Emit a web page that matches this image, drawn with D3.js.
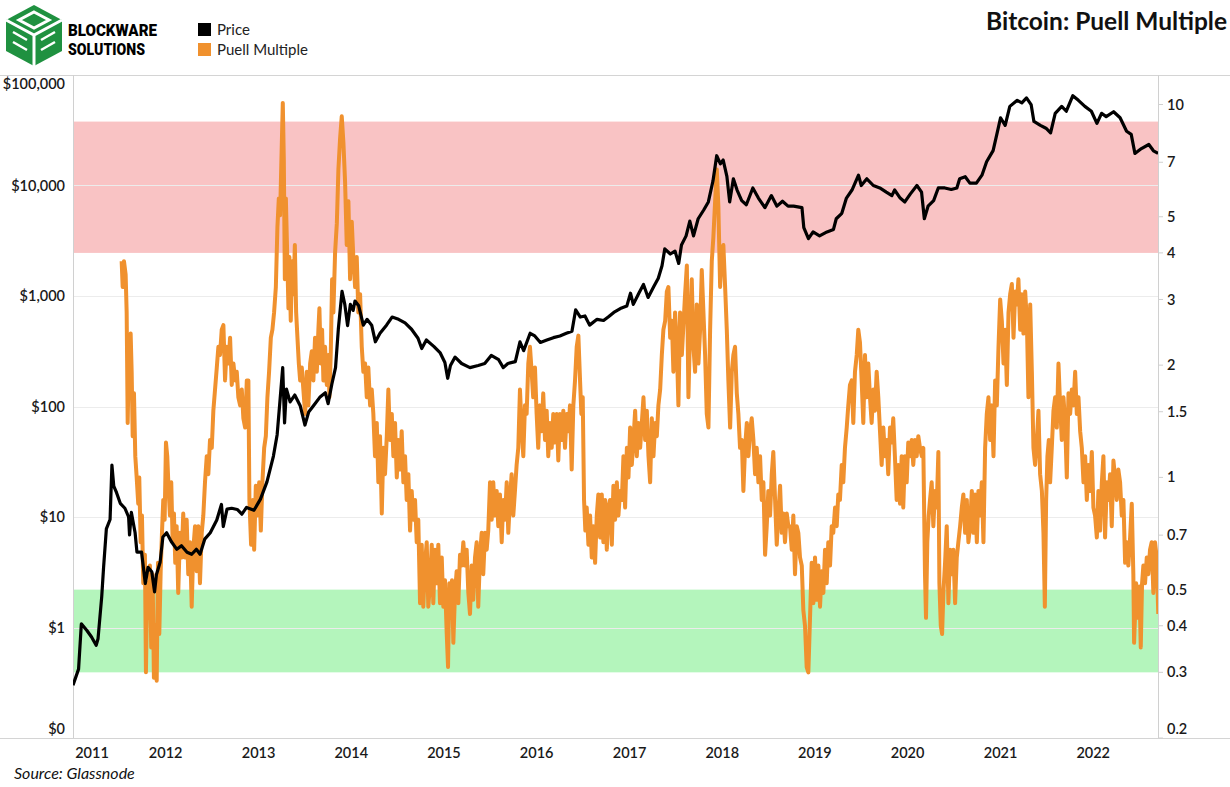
<!DOCTYPE html>
<html>
<head>
<meta charset="utf-8">
<script src="https://cdn.jsdelivr.net/npm/d3@7"></script>
<style>
  body { margin: 0; background: #fff; }
  svg { display: block; font-family: Lato, "Open Sans", sans-serif; }
</style>
</head>
<body>
<script>
// chart data (decimal year, value)
var yearTicks = [2011, 2012, 2013, 2014, 2015, 2016, 2017, 2018, 2019, 2020, 2021, 2022];
var priceTicks = [0.1, 1, 10, 100, 1000, 10000, 100000];
var puellTicks = [0.2, 0.3, 0.4, 0.5, 0.7, 1, 1.5, 2, 3, 4, 5, 7, 10];
var redZone = [4, 9];
var greenZone = [0.3, 0.5];

var price = [
  [2011.00,0.30],[2011.06,0.42],[2011.09,1.08],[2011.15,0.94],[2011.20,0.82],[2011.25,0.69],[2011.27,0.79],
  [2011.31,1.9],[2011.33,3.5],[2011.36,7.8],[2011.40,9.5],[2011.42,29.5],[2011.44,19],[2011.47,16.6],
  [2011.51,13.3],[2011.56,12],[2011.60,10],[2011.61,6.9],[2011.63,11],[2011.67,7.2],[2011.69,4.8],
  [2011.74,4.8],[2011.78,2.5],[2011.81,3.5],[2011.85,3.2],[2011.88,2.1],[2011.90,3.0],[2011.94,3.9],
  [2011.97,6.6],[2012.01,7.2],[2012.06,6.0],[2012.12,5.1],[2012.17,5.5],[2012.23,4.8],[2012.28,4.6],
  [2012.33,5.1],[2012.37,4.6],[2012.42,6.3],[2012.48,7.2],[2012.55,9.4],[2012.60,13],[2012.62,8.2],
  [2012.66,11.8],[2012.71,12],[2012.77,11.7],[2012.82,10.6],[2012.87,12.2],[2012.95,11.5],[2013.02,14.5],
  [2013.09,20.8],[2013.16,35.6],[2013.20,55.6],[2013.23,111],[2013.26,225],[2013.28,71],[2013.30,144],
  [2013.34,110],[2013.39,127],[2013.45,101],[2013.50,68],[2013.54,89],[2013.59,101],[2013.66,121],
  [2013.72,133],[2013.75,106],[2013.79,159],[2013.83,225],[2013.86,500],[2013.90,1100],[2013.93,840],
  [2013.96,540],[2013.99,840],[2014.02,740],[2014.04,900],[2014.08,815],[2014.13,545],[2014.17,615],
  [2014.22,545],[2014.26,385],[2014.31,460],[2014.38,545],[2014.44,645],[2014.51,615],[2014.58,570],
  [2014.65,500],[2014.72,415],[2014.76,335],[2014.81,400],[2014.89,350],[2014.96,305],[2015.01,250],
  [2015.04,180],[2015.07,235],[2015.12,280],[2015.19,245],[2015.28,225],[2015.37,235],[2015.44,245],
  [2015.51,290],[2015.59,265],[2015.64,225],[2015.69,245],[2015.77,255],[2015.82,385],[2015.86,320],
  [2015.93,460],[2015.98,435],[2016.04,380],[2016.11,400],[2016.18,420],[2016.25,435],[2016.32,460],
  [2016.38,480],[2016.42,750],[2016.47,645],[2016.52,660],[2016.57,545],[2016.65,615],[2016.72,600],
  [2016.77,645],[2016.83,710],[2016.90,770],[2016.97,810],[2017.01,1060],[2017.04,840],[2017.10,1060],
  [2017.15,1270],[2017.20,970],[2017.26,1210],[2017.31,1450],[2017.35,1880],[2017.38,2670],[2017.44,2400],
  [2017.49,2550],[2017.53,1970],[2017.56,2900],[2017.61,3500],[2017.65,4770],[2017.69,3500],[2017.74,5000],
  [2017.80,6000],[2017.85,7100],[2017.90,11000],[2017.94,18600],[2017.98,15700],[2018.01,17000],
  [2018.05,12100],[2018.08,7100],[2018.12,11500],[2018.16,9100],[2018.21,7300],[2018.26,6700],[2018.33,9500],
  [2018.39,7700],[2018.46,6300],[2018.53,8100],[2018.59,6500],[2018.65,7200],[2018.71,6500],[2018.77,6500],
  [2018.86,6300],[2018.88,4160],[2018.93,3300],[2018.98,3800],[2019.05,3500],[2019.13,3800],[2019.20,4000],
  [2019.23,5000],[2019.29,5600],[2019.34,7700],[2019.40,9100],[2019.47,12400],[2019.50,10000],[2019.56,11500],
  [2019.63,10000],[2019.70,9500],[2019.77,8700],[2019.83,8100],[2019.86,9100],[2019.92,7700],[2019.97,7100],
  [2020.03,8400],[2020.10,10000],[2020.15,8700],[2020.18,5000],[2020.22,6500],[2020.28,7300],[2020.33,9500],
  [2020.40,9500],[2020.47,9200],[2020.53,9500],[2020.56,11500],[2020.62,12000],[2020.67,10500],[2020.74,10500],
  [2020.80,12400],[2020.85,16400],[2020.92,20700],[2020.96,29000],[2021.00,41000],[2021.05,35000],
  [2021.10,52000],[2021.18,59000],[2021.23,56000],[2021.28,62000],[2021.33,54000],[2021.36,38000],
  [2021.43,35000],[2021.49,33000],[2021.54,30000],[2021.59,45000],[2021.66,52000],[2021.71,47000],
  [2021.78,65000],[2021.84,59000],[2021.91,52000],[2021.98,47000],[2022.04,36500],[2022.09,45000],
  [2022.14,42000],[2022.22,46500],[2022.29,41000],[2022.36,31000],[2022.41,29000],[2022.45,19500],
  [2022.52,21600],[2022.60,23500],[2022.65,20600],[2022.70,19500]
];

var puell = [
  [2011.525,3.8],[2011.536,3.24],[2011.550,3.8],[2011.568,3.5],[2011.579,2.77],[2011.590,1.4],[2011.604,2.18],
  [2011.622,2.43],[2011.633,1.92],[2011.644,1.29],[2011.658,1.68],[2011.672,1.14],[2011.687,1.0],[2011.704,0.85],
  [2011.715,1.0],[2011.730,0.67],[2011.744,0.79],[2011.758,0.52],[2011.776,0.62],[2011.787,0.30],[2011.801,0.52],
  [2011.812,0.42],[2011.830,0.58],[2011.844,0.35],[2011.859,0.55],[2011.873,0.29],[2011.887,0.40],[2011.903,0.285],
  [2011.917,0.59],[2011.931,0.38],[2011.946,0.56],[2011.960,0.71],[2011.974,0.87],[2011.989,0.77],[2012.003,1.24],
  [2012.017,1.14],[2012.032,0.92],[2012.046,0.79],[2012.060,0.97],[2012.075,0.67],[2012.089,0.8],[2012.103,0.59],
  [2012.118,0.74],[2012.135,0.49],[2012.154,0.71],[2012.172,0.61],[2012.189,0.8],[2012.208,0.61],[2012.226,0.77],
  [2012.243,0.55],[2012.262,0.67],[2012.280,0.45],[2012.297,0.64],[2012.316,0.74],[2012.334,0.56],[2012.351,0.74],
  [2012.369,0.52],[2012.388,0.71],[2012.405,0.79],[2012.423,0.97],[2012.442,1.14],[2012.459,1.02],[2012.477,1.26],
  [2012.496,1.2],[2012.513,1.51],[2012.531,1.72],[2012.550,1.97],[2012.567,2.24],[2012.585,2.13],[2012.603,2.49],
  [2012.621,2.56],[2012.639,1.82],[2012.657,2.24],[2012.675,2.02],[2012.693,2.37],[2012.711,1.77],[2012.729,2.02],
  [2012.747,1.82],[2012.765,1.92],[2012.782,1.64],[2012.801,1.56],[2012.819,1.72],[2012.836,1.44],[2012.855,1.36],
  [2012.873,1.82],[2012.890,1.82],[2012.901,0.87],[2012.919,0.66],[2012.938,0.87],[2012.952,0.64],[2012.970,0.95],
  [2012.987,0.79],[2013.006,0.97],[2013.024,0.72],[2013.041,0.97],[2013.060,1.2],[2013.078,1.29],[2013.095,1.64],
  [2013.113,1.92],[2013.132,2.37],[2013.149,2.49],[2013.167,2.77],[2013.186,3.24],[2013.203,4.7],[2013.218,5.6],
  [2013.232,5.05],[2013.246,7.1],[2013.261,10.1],[2013.272,7.1],[2013.283,3.4],[2013.294,5.6],[2013.308,4.0],
  [2013.322,2.84],[2013.332,3.9],[2013.347,2.63],[2013.362,3.8],[2013.376,3.1],[2013.391,4.2],[2013.405,2.77],
  [2013.419,2.37],[2013.434,2.02],[2013.448,1.82],[2013.466,1.97],[2013.483,1.72],[2013.502,1.48],[2013.520,1.92],
  [2013.537,1.56],[2013.556,2.02],[2013.574,2.18],[2013.591,1.82],[2013.609,2.37],[2013.628,1.92],[2013.645,2.49],
  [2013.656,2.84],[2013.671,2.02],[2013.685,2.49],[2013.699,1.82],[2013.717,2.24],[2013.736,1.77],[2013.753,2.13],
  [2013.764,1.64],[2013.779,2.18],[2013.793,3.4],[2013.807,2.77],[2013.825,4.0],[2013.844,4.8],[2013.861,6.7],
  [2013.879,8.1],[2013.897,9.3],[2013.915,7.9],[2013.933,6.2],[2013.951,4.2],[2013.969,5.5],[2013.987,3.4],
  [2014.005,4.85],[2014.022,3.9],[2014.041,3.24],[2014.059,3.9],[2014.076,2.77],[2014.095,3.1],[2014.113,2.24],
  [2014.130,1.92],[2014.149,2.02],[2014.167,1.64],[2014.184,1.97],[2014.203,1.56],[2014.221,1.72],[2014.238,1.48],
  [2014.256,1.14],[2014.275,1.4],[2014.292,0.97],[2014.310,1.29],[2014.329,0.8],[2014.346,1.2],[2014.364,1.02],
  [2014.383,1.29],[2014.400,1.72],[2014.418,1.26],[2014.437,1.48],[2014.454,1.14],[2014.472,1.4],[2014.491,1.0],
  [2014.508,1.26],[2014.526,1.05],[2014.544,1.33],[2014.562,0.97],[2014.580,1.14],[2014.598,0.87],[2014.616,1.02],
  [2014.634,0.72],[2014.652,0.92],[2014.669,0.77],[2014.688,0.87],[2014.706,0.67],[2014.723,0.77],[2014.742,0.46],
  [2014.760,0.66],[2014.777,0.45],[2014.796,0.59],[2014.814,0.67],[2014.831,0.45],[2014.850,0.52],[2014.868,0.66],
  [2014.885,0.46],[2014.903,0.64],[2014.922,0.52],[2014.939,0.66],[2014.957,0.46],[2014.976,0.61],[2014.993,0.45],
  [2015.011,0.53],[2015.030,0.38],[2015.044,0.31],[2015.058,0.52],[2015.073,0.42],[2015.087,0.53],[2015.101,0.36],
  [2015.119,0.49],[2015.137,0.56],[2015.155,0.46],[2015.173,0.62],[2015.191,0.58],[2015.209,0.67],[2015.227,0.58],
  [2015.245,0.64],[2015.263,0.49],[2015.281,0.43],[2015.299,0.58],[2015.316,0.47],[2015.335,0.61],[2015.353,0.67],
  [2015.370,0.45],[2015.389,0.62],[2015.407,0.71],[2015.424,0.55],[2015.443,0.71],[2015.461,0.64],[2015.478,0.72],
  [2015.497,0.97],[2015.515,0.77],[2015.532,0.97],[2015.550,0.79],[2015.569,0.92],[2015.586,0.74],[2015.604,0.9],
  [2015.623,0.67],[2015.640,0.87],[2015.658,0.77],[2015.677,0.97],[2015.694,0.71],[2015.712,0.87],[2015.730,1.02],
  [2015.748,0.79],[2015.766,0.92],[2015.784,1.08],[2015.802,1.2],[2015.820,1.72],[2015.838,1.36],[2015.856,1.14],
  [2015.874,1.56],[2015.892,1.48],[2015.910,2.02],[2015.928,2.24],[2015.946,1.92],[2015.963,1.64],[2015.982,1.97],
  [2016.000,1.48],[2016.017,1.2],[2016.036,1.56],[2016.054,1.33],[2016.071,1.68],[2016.090,1.26],[2016.108,1.51],
  [2016.125,1.14],[2016.143,1.4],[2016.162,1.2],[2016.179,1.48],[2016.197,1.24],[2016.216,1.48],[2016.233,1.11],
  [2016.251,1.48],[2016.270,1.26],[2016.287,1.51],[2016.305,1.2],[2016.324,1.48],[2016.341,1.33],[2016.359,1.56],
  [2016.377,1.05],[2016.395,1.56],[2016.413,1.82],[2016.431,2.24],[2016.449,2.4],[2016.467,1.82],[2016.481,1.48],
  [2016.496,1.64],[2016.510,0.87],[2016.524,0.72],[2016.539,0.83],[2016.557,0.66],[2016.575,0.79],[2016.593,0.61],
  [2016.610,0.74],[2016.629,0.59],[2016.647,0.79],[2016.664,0.9],[2016.683,0.69],[2016.701,0.9],[2016.718,0.67],
  [2016.737,0.87],[2016.755,0.64],[2016.772,0.83],[2016.790,0.87],[2016.809,0.66],[2016.826,0.95],[2016.844,0.77],
  [2016.863,0.97],[2016.880,0.79],[2016.898,0.92],[2016.917,0.87],[2016.934,1.14],[2016.952,0.83],[2016.971,1.2],
  [2016.988,1.0],[2017.006,1.36],[2017.024,1.08],[2017.042,1.26],[2017.060,1.51],[2017.078,1.14],[2017.096,1.4],
  [2017.114,1.2],[2017.132,1.4],[2017.150,1.64],[2017.168,1.26],[2017.186,1.51],[2017.204,1.14],[2017.222,0.97],
  [2017.240,1.44],[2017.258,1.14],[2017.276,1.4],[2017.294,1.29],[2017.311,1.56],[2017.330,1.72],[2017.348,2.13],
  [2017.365,2.49],[2017.384,2.63],[2017.402,3.15],[2017.419,3.24],[2017.438,2.37],[2017.456,2.63],[2017.473,1.92],
  [2017.491,2.77],[2017.510,2.24],[2017.527,1.56],[2017.545,2.77],[2017.564,2.13],[2017.581,2.56],[2017.599,3.1],
  [2017.618,3.7],[2017.635,1.64],[2017.653,2.49],[2017.671,3.4],[2017.689,2.24],[2017.707,1.92],[2017.725,2.91],
  [2017.743,2.02],[2017.761,2.49],[2017.779,3.6],[2017.797,2.77],[2017.815,2.13],[2017.833,1.48],[2017.851,1.36],
  [2017.869,2.49],[2017.887,3.8],[2017.904,4.4],[2017.923,5.5],[2017.941,6.7],[2017.958,5.35],[2017.977,3.24],
  [2017.995,4.0],[2018.012,4.2],[2018.031,3.24],[2018.049,2.49],[2018.066,1.82],[2018.085,1.36],[2018.103,1.92],
  [2018.120,2.13],[2018.138,2.24],[2018.157,1.68],[2018.174,1.48],[2018.192,1.2],[2018.211,1.26],[2018.228,0.92],
  [2018.246,1.2],[2018.265,1.4],[2018.282,1.14],[2018.300,1.33],[2018.318,1.44],[2018.336,1.26],[2018.354,1.02],
  [2018.372,1.2],[2018.390,0.97],[2018.408,1.14],[2018.426,0.87],[2018.444,0.97],[2018.462,0.62],[2018.480,0.74],
  [2018.497,0.92],[2018.516,0.79],[2018.534,1.02],[2018.551,1.17],[2018.570,0.87],[2018.588,0.66],[2018.605,0.79],
  [2018.624,0.95],[2018.642,0.71],[2018.659,0.8],[2018.677,0.67],[2018.696,0.8],[2018.713,0.74],[2018.731,0.74],
  [2018.750,0.64],[2018.767,0.79],[2018.785,0.55],[2018.804,0.74],[2018.821,0.71],[2018.839,0.61],[2018.858,0.58],
  [2018.875,0.44],[2018.893,0.4],[2018.911,0.31],[2018.929,0.3],[2018.947,0.42],[2018.965,0.59],[2018.983,0.46],
  [2019.001,0.61],[2019.019,0.47],[2019.037,0.58],[2019.055,0.45],[2019.073,0.56],[2019.091,0.49],[2019.109,0.64],
  [2019.127,0.52],[2019.144,0.67],[2019.163,0.58],[2019.181,0.74],[2019.198,0.71],[2019.217,0.83],[2019.235,0.74],
  [2019.252,0.9],[2019.270,0.87],[2019.289,1.08],[2019.306,0.97],[2019.324,1.2],[2019.343,1.36],[2019.360,1.56],
  [2019.378,1.77],[2019.397,1.82],[2019.414,1.4],[2019.432,1.92],[2019.451,2.13],[2019.468,2.49],[2019.486,2.3],
  [2019.504,1.82],[2019.522,1.4],[2019.540,2.13],[2019.558,1.64],[2019.576,2.02],[2019.594,1.64],[2019.612,1.4],
  [2019.630,1.72],[2019.648,1.51],[2019.666,1.92],[2019.684,1.64],[2019.702,1.33],[2019.720,1.08],[2019.738,1.36],
  [2019.756,1.14],[2019.774,1.26],[2019.791,1.02],[2019.810,1.36],[2019.828,1.24],[2019.845,1.44],[2019.863,1.14],
  [2019.882,0.87],[2019.899,1.08],[2019.918,0.85],[2019.936,1.14],[2019.953,0.83],[2019.971,1.14],[2019.990,0.97],
  [2020.007,1.24],[2020.025,1.14],[2020.044,1.26],[2020.061,1.08],[2020.079,1.26],[2020.098,1.14],[2020.115,1.29],
  [2020.133,1.2],[2020.152,1.14],[2020.169,1.2],[2020.187,0.55],[2020.198,0.42],[2020.212,0.67],[2020.227,0.79],
  [2020.241,0.87],[2020.259,0.97],[2020.277,0.74],[2020.295,0.92],[2020.313,0.83],[2020.331,1.17],[2020.342,0.52],
  [2020.357,0.4],[2020.371,0.38],[2020.385,0.49],[2020.403,0.59],[2020.421,0.74],[2020.439,0.46],[2020.457,0.64],
  [2020.475,0.55],[2020.492,0.64],[2020.511,0.46],[2020.529,0.61],[2020.546,0.67],[2020.565,0.74],[2020.583,0.83],
  [2020.600,0.9],[2020.619,0.71],[2020.637,0.87],[2020.654,0.67],[2020.672,0.74],[2020.691,0.92],[2020.708,0.71],
  [2020.726,0.9],[2020.745,0.67],[2020.762,0.92],[2020.780,0.79],[2020.798,0.97],[2020.816,0.67],[2020.834,1.2],
  [2020.852,1.48],[2020.870,1.64],[2020.888,1.26],[2020.906,1.56],[2020.924,1.14],[2020.942,1.82],[2020.960,1.56],
  [2020.978,2.24],[2020.996,3.0],[2021.014,2.63],[2021.032,2.02],[2021.050,2.49],[2021.068,1.77],[2021.086,2.77],
  [2021.104,3.1],[2021.122,3.3],[2021.140,2.37],[2021.158,3.15],[2021.176,2.91],[2021.193,3.4],[2021.212,2.49],
  [2021.230,3.1],[2021.247,2.43],[2021.266,3.15],[2021.284,2.63],[2021.301,1.64],[2021.320,2.91],[2021.338,1.92],
  [2021.355,1.2],[2021.373,1.08],[2021.392,1.26],[2021.409,1.51],[2021.427,1.02],[2021.446,0.92],[2021.463,0.71],
  [2021.478,0.45],[2021.492,0.87],[2021.506,1.14],[2021.521,1.26],[2021.535,0.97],[2021.553,1.2],[2021.571,1.51],
  [2021.589,1.64],[2021.607,1.36],[2021.625,2.02],[2021.643,1.56],[2021.661,1.26],[2021.679,1.64],[2021.697,1.4],
  [2021.715,1.0],[2021.733,1.68],[2021.751,1.48],[2021.769,1.72],[2021.787,1.56],[2021.805,1.92],[2021.823,1.48],
  [2021.841,1.64],[2021.859,1.33],[2021.877,1.2],[2021.895,0.97],[2021.913,1.14],[2021.931,0.87],[2021.948,1.08],
  [2021.967,0.92],[2021.985,1.17],[2022.002,0.83],[2022.020,0.79],[2022.039,0.69],[2022.056,0.92],[2022.074,0.72],
  [2022.093,0.97],[2022.110,1.14],[2022.128,0.69],[2022.147,0.97],[2022.164,0.87],[2022.182,1.02],[2022.200,0.74],
  [2022.218,1.11],[2022.236,1.0],[2022.254,0.87],[2022.271,1.05],[2022.290,0.97],[2022.308,0.79],[2022.326,0.87],
  [2022.344,0.59],[2022.362,0.67],[2022.379,0.58],[2022.398,0.69],[2022.416,0.85],[2022.433,0.55],[2022.441,0.36],
  [2022.463,0.52],[2022.481,0.42],[2022.498,0.51],[2022.513,0.35],[2022.527,0.52],[2022.541,0.58],[2022.559,0.52],
  [2022.578,0.61],[2022.595,0.55],[2022.613,0.64],[2022.631,0.67],[2022.649,0.49],[2022.667,0.67],[2022.685,0.61],
  [2022.702,0.43]
];

var width = 1230, height = 787;
var margin = {top: 75, right: 72, bottom: 49, left: 73};
var plotW = width - margin.left - margin.right;
var plotH = height - margin.top - margin.bottom;

// decimal year -> Date
function toDate(t) {
  var y = Math.floor(t);
  var a = Date.UTC(y, 0, 1), b = Date.UTC(y + 1, 0, 1);
  return new Date(a + (t - y) * (b - a));
}

var x = d3.scaleUtc()
  .domain([toDate(2011), toDate(2022.699)])
  .range([0, plotW]);
var yPrice = d3.scaleLog().domain([0.1, 100000]).range([plotH, 0]);
var yPuell = d3.scaleLog().domain([0.2, 12]).range([plotH, 0]);

var svg = d3.select("body").append("svg")
  .attr("width", width)
  .attr("height", height);

// frame lines across the whole picture
svg.append("line").attr("x1", 0).attr("x2", width)
  .attr("y1", margin.top + 0.5).attr("y2", margin.top + 0.5)
  .attr("stroke", "#d4d4d4");
svg.append("line").attr("x1", 0).attr("x2", width)
  .attr("y1", margin.top + plotH + 0.5).attr("y2", margin.top + plotH + 0.5)
  .attr("stroke", "#d4d4d4");

var g = svg.append("g")
  .attr("transform", "translate(" + margin.left + "," + margin.top + ")");

g.append("clipPath").attr("id", "clip")
  .append("rect").attr("width", plotW).attr("height", plotH);

// zones on the Puell axis
g.append("rect")
  .attr("x", 0).attr("width", plotW)
  .attr("y", yPuell(redZone[1]))
  .attr("height", yPuell(redZone[0]) - yPuell(redZone[1]))
  .attr("fill", "#f9c3c4");
g.append("rect")
  .attr("x", 0).attr("width", plotW)
  .attr("y", yPuell(greenZone[1]))
  .attr("height", yPuell(greenZone[0]) - yPuell(greenZone[1]))
  .attr("fill", "#b4f5bc");

// gridlines from the price axis
g.selectAll(".grid").data(priceTicks.slice(1, -1)).enter()
  .append("line")
  .attr("x1", 0).attr("x2", plotW)
  .attr("y1", function(d) { return Math.round(yPrice(d)) + 0.5; })
  .attr("y2", function(d) { return Math.round(yPrice(d)) + 0.5; })
  .attr("stroke", "#ececec");

// side axis lines
g.append("line").attr("x1", 0.5).attr("x2", 0.5).attr("y1", 0).attr("y2", plotH).attr("stroke", "#d0d0d0");
g.append("line").attr("x1", plotW + 0.5).attr("x2", plotW + 0.5).attr("y1", 0).attr("y2", plotH).attr("stroke", "#d0d0d0");

var lines = g.append("g").attr("clip-path", "url(#clip)");

var puellLine = d3.line()
  .x(function(d) { return x(toDate(d[0])); })
  .y(function(d) { return yPuell(d[1]); });
var priceLine = d3.line()
  .x(function(d) { return x(toDate(d[0])); })
  .y(function(d) { return yPrice(d[1]); });

lines.append("path").datum(puell)
  .attr("d", puellLine)
  .attr("fill", "none")
  .attr("stroke", "#f0912e")
  .attr("stroke-width", 4)
  .attr("stroke-linejoin", "round");
lines.append("path").datum(price)
  .attr("d", priceLine)
  .attr("fill", "none")
  .attr("stroke", "#000")
  .attr("stroke-width", 3.2)
  .attr("stroke-linejoin", "round");

// left axis labels
var fmtPrice = d3.format("$,.0f");
function clampY(y) { return Math.max(9, Math.min(plotH - 9, y)); }
g.selectAll(".pl").data(priceTicks).enter()
  .append("text")
  .attr("x", -8)
  .attr("y", function(d) { return clampY(yPrice(d)); })
  .attr("dy", "0.35em")
  .attr("text-anchor", "end")
  .attr("font-size", 14.5)
  .attr("font-weight", 600)
  .attr("fill", "#1a1a1a")
  .text(fmtPrice);

// right axis ticks and labels
g.selectAll(".rt").data(puellTicks).enter()
  .append("line")
  .attr("x1", plotW).attr("x2", plotW + 5)
  .attr("y1", function(d) { return yPuell(d); })
  .attr("y2", function(d) { return yPuell(d); })
  .attr("stroke", "#d0d0d0");
g.selectAll(".rl").data(puellTicks).enter()
  .append("text")
  .attr("x", plotW + 9)
  .attr("y", function(d) { return clampY(yPuell(d)); })
  .attr("dy", "0.35em")
  .attr("font-size", 14.5)
  .attr("font-weight", 600)
  .attr("fill", "#1a1a1a")
  .text(function(d) { return String(d); });

// year labels
g.selectAll(".xl").data(yearTicks).enter()
  .append("text")
  .attr("x", function(d) { return Math.max(19, x(toDate(d))); })
  .attr("y", plotH + 20)
  .attr("text-anchor", "middle")
  .attr("font-size", 14.5)
  .attr("font-weight", 600)
  .attr("fill", "#1a1a1a")
  .text(function(d) { return d; });

// title, legend, source
svg.append("text")
  .attr("x", 1227).attr("y", 30)
  .attr("text-anchor", "end")
  .attr("font-size", 24.5)
  .attr("font-weight", 700)
  .attr("fill", "#111")
  .text("Bitcoin: Puell Multiple");

var legend = [["Price", "#000"], ["Puell Multiple", "#f0912e"]];
var lg = svg.append("g").attr("transform", "translate(198,23)");
lg.selectAll("rect").data(legend).enter().append("rect")
  .attr("x", 0).attr("y", function(d, i) { return i * 20; })
  .attr("width", 13).attr("height", 13)
  .attr("fill", function(d) { return d[1]; });
lg.selectAll("text").data(legend).enter().append("text")
  .attr("x", 19).attr("y", function(d, i) { return i * 20 + 11.5; })
  .attr("font-size", 15)
  .attr("fill", "#222")
  .text(function(d) { return d[0]; });

svg.append("text")
  .attr("x", 14).attr("y", 779)
  .attr("font-size", 16)
  .attr("font-style", "italic")
  .attr("fill", "#111")
  .text("Source: Glassnode");

// logo
var logo = svg.append("g").attr("transform", "translate(5,5)");
logo.append("path")
  .attr("d", "M29,0 L57,15 L57,46 L29,61 L1,46 L1,15 Z")
  .attr("fill", "#1f9140");
logo.append("path")
  .attr("d", "M1,15 L29,30 L57,15 M29,30 L29,61")
  .attr("stroke", "#fff").attr("stroke-width", 3).attr("fill", "none");
logo.append("path")
  .attr("d", "M29,7 L44,15 L29,23 L14,15 Z")
  .attr("stroke", "#fff").attr("stroke-width", 3).attr("fill", "none");
logo.append("path")
  .attr("d", "M8,27 L22,35 M8,37 L22,45 M36,35 L50,27 M36,45 L50,37")
  .attr("stroke", "#fff").attr("stroke-width", 2.5).attr("fill", "none");
logo.append("text")
  .attr("x", 63).attr("y", 30.5)
  .attr("font-family", "Roboto, 'DejaVu Sans', sans-serif")
  .attr("font-size", 16).attr("font-weight", 900)
  .attr("textLength", 89).attr("lengthAdjust", "spacingAndGlyphs")
  .text("BLOCKWARE");
logo.append("text")
  .attr("x", 63).attr("y", 50)
  .attr("font-family", "Roboto, 'DejaVu Sans', sans-serif")
  .attr("font-size", 16).attr("font-weight", 900)
  .attr("textLength", 77).attr("lengthAdjust", "spacingAndGlyphs")
  .text("SOLUTIONS");
</script>
</body>
</html>
